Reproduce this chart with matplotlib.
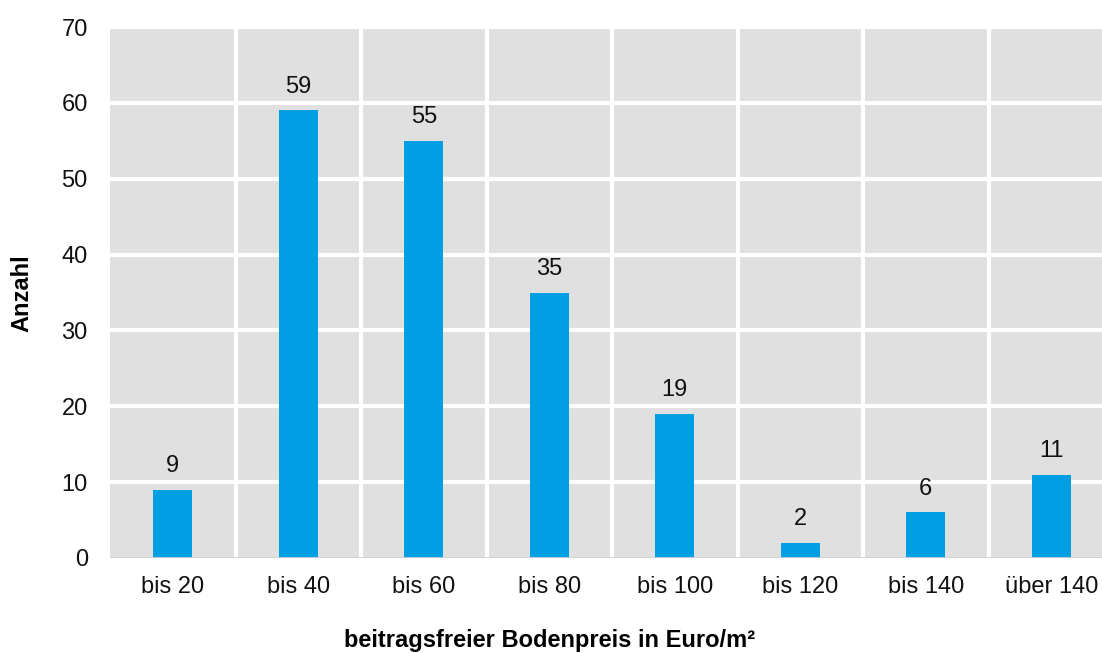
import matplotlib.pyplot as plt
import numpy as np

plt.rcParams['font.family'] = ['Liberation Sans', 'DejaVu Sans']

# Data
kategorien = ["bis 20", "bis 40", "bis 60", "bis 80", "bis 100", "bis 120", "bis 140", "über 140"]
anzahl = [9, 59, 55, 35, 19, 2, 6, 11]

W, H = 1102, 653
fig = plt.figure(figsize=(W / 100, H / 100), dpi=100)

# plot area in pixels: left 110, right ~1112 (slightly cut), top 27, bottom 558
left, right, top, bottom = 110, 1114, 27, 558
ax = fig.add_axes([left / W, 1 - bottom / H, (right - left) / W, (bottom - top) / H])
ax.set_facecolor("#e0e0e0")

x = np.arange(len(kategorien))
ax.bar(x, anzahl, width=0.31, color="#009fe3", zorder=3)

for xi, v in zip(x, anzahl):
    ax.text(xi, v + 1.7, str(v), ha="center", va="bottom", fontsize=17, color="#111111")

ax.set_xlim(-0.5, len(kategorien) - 0.5)
ax.set_ylim(0, 70)
ax.set_yticks(range(0, 71, 10))
ax.set_xticks(x)
ax.set_xticklabels(kategorien)

# white grid: horizontal at ticks, vertical between categories
for y in range(10, 71, 10):
    ax.axhline(y, color="white", lw=3, zorder=1)
for b in np.arange(0.5, len(kategorien) - 0.5, 1):
    ax.axvline(b, color="white", lw=3, zorder=1)
ax.axhline(0, color="#d0d0d0", lw=2, zorder=4)

for s in ax.spines.values():
    s.set_visible(False)
ax.tick_params(axis="both", length=0, labelsize=17, colors="#111111")
ax.tick_params(axis="x", pad=13)
ax.tick_params(axis="y", pad=16)

fig.text(22 / W, 1 - 293 / H, "Anzahl", rotation=90, ha="center", va="center",
         fontsize=17, fontweight="bold")
fig.text(550 / W, 1 - 641 / H, "beitragsfreier Bodenpreis in Euro/m²", ha="center", va="center",
         fontsize=17, fontweight="bold")

fig.savefig("out.png", dpi=100)
